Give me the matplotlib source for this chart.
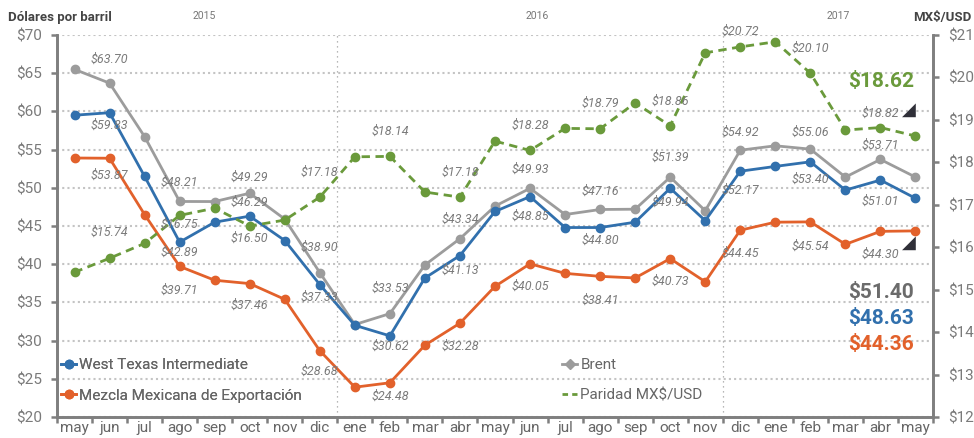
import matplotlib
matplotlib.use("Agg")
import matplotlib.pyplot as plt
import numpy as np
from matplotlib.lines import Line2D

plt.rcParams['font.family'] = ['Roboto', 'DejaVu Sans']

# data (monthly averages may 2015 - may 2017)
months = ['may', 'jun', 'jul', 'ago', 'sep', 'oct', 'nov', 'dic',
          'ene', 'feb', 'mar', 'abr', 'may', 'jun', 'jul', 'ago', 'sep', 'oct', 'nov', 'dic',
          'ene', 'feb', 'mar', 'abr', 'may']
years = ['2015', '2016', '2017']
year_pos = [3.7, 13.2, 21.8]

wti = [59.5, 59.83, 51.5, 42.89, 45.5, 46.29, 43.1, 37.33,
       32.0, 30.62, 38.2, 41.13, 46.9, 48.85, 44.8, 44.80, 45.5, 49.94, 45.7, 52.17,
       52.8, 53.40, 49.7, 51.01, 48.63]
brent = [65.5, 63.70, 56.7, 48.21, 48.2, 49.29, 45.9, 38.90,
         32.1, 33.53, 39.9, 43.34, 47.6, 49.93, 46.5, 47.16, 47.2, 51.39, 47.0, 54.92,
         55.5, 55.06, 51.4, 53.71, 51.40]
mezcla = [53.9, 53.87, 46.5, 39.71, 37.9, 37.46, 35.4, 28.68,
          23.9, 24.48, 29.4, 32.28, 37.1, 40.05, 38.8, 38.41, 38.2, 40.73, 37.7, 44.45,
          45.5, 45.54, 42.6, 44.30, 44.36]
paridad = [15.41, 15.74, 16.09, 16.75, 16.92, 16.50, 16.64, 17.18,
           18.13, 18.14, 17.30, 17.18, 18.50, 18.28, 18.80, 18.79, 19.40, 18.86, 20.58, 20.72,
           20.84, 20.10, 18.76, 18.82, 18.62]

c_wti = '#3170ad'
c_brent = '#9c9c9c'
c_mez = '#e2612b'
c_par = '#6a9a3b'
c_txt = '#7a7a7a'

x = np.arange(len(months))

fig = plt.figure(figsize=(9.74, 4.38), dpi=100)
ax = fig.add_axes([57/974, 21/438, 876/974, 382/438])
ax2 = ax.twinx()

ax.plot(x, brent, color=c_brent, lw=2, marker='o', ms=6, zorder=3)
ax.plot(x, wti, color=c_wti, lw=2, marker='o', ms=6, zorder=4)
ax.plot(x, mezcla, color=c_mez, lw=2, marker='o', ms=6, zorder=4)
ax2.plot(x, paridad, color=c_par, lw=2, ls=(0, (3, 2)), marker='o', ms=6)

ax.set_xlim(-0.5, len(months) - 0.5)
ax.set_ylim(20, 70)
ax2.set_ylim(12, 21)
ax.set_yticks(np.arange(20, 71, 5))
ax.set_yticklabels(['$%d' % v for v in np.arange(20, 71, 5)])
ax2.set_yticks(np.arange(12, 22, 1))
ax2.set_yticklabels(['$%d' % v for v in np.arange(12, 22, 1)])

ax.set_xticks(np.arange(-0.5, len(months), 1))
ax.set_xticklabels([])
ax.set_xticks(x, minor=True)
ax.set_xticklabels(months, minor=True)
ax.tick_params(axis='x', which='major', length=4, width=1.8, color='#7f7f7f')
ax.tick_params(axis='x', which='minor', length=0, pad=3, labelsize=11, labelcolor='#666666')
ax.tick_params(axis='y', length=4, width=1.8, color='#7f7f7f', pad=7, labelsize=11, labelcolor=c_txt)
ax2.tick_params(axis='y', length=4, width=1.8, color='#7f7f7f', pad=7, labelsize=11, labelcolor=c_txt)

for a in (ax, ax2):
    a.spines['top'].set_visible(False)
    for s in ('left', 'right', 'bottom'):
        a.spines[s].set_color('#7f7f7f')
        a.spines[s].set_linewidth(1.9)

ax.yaxis.grid(True, color='#c4c4c4', lw=1.5, ls=(0, (1, 1.5)))
ax.set_axisbelow(True)
for b in (7.5, 18.5):
    ax.axvline(b, color='#a0a0a0', lw=0.9, ls=(0, (1, 3)), zorder=1)

# data labels: (series, index, offset in pixels)
series = {'wti': (wti, ax), 'brent': (brent, ax), 'mezcla': (mezcla, ax), 'paridad': (paridad, ax2)}
labels = [
    ('brent', 1, 24), ('wti', 1, -13), ('mezcla', 1, -17), ('paridad', 1, 26),
    ('brent', 3, 19), ('paridad', 3, -9), ('wti', 3, -10), ('mezcla', 3, -24),
    ('brent', 5, 16), ('wti', 5, 14), ('paridad', 5, -12), ('mezcla', 5, -22),
    ('paridad', 7, 25), ('brent', 7, 25), ('wti', 7, -13), ('mezcla', 7, -21),
    ('paridad', 9, 25), ('brent', 9, 25), ('wti', 9, -10), ('mezcla', 9, -14),
    ('paridad', 11, 25), ('brent', 11, 19), ('wti', 11, -15), ('mezcla', 11, -23),
    ('paridad', 13, 25), ('brent', 13, 19), ('wti', 13, -20), ('mezcla', 13, -23),
    ('paridad', 15, 25), ('brent', 15, 18), ('wti', 15, -13), ('mezcla', 15, -24),
    ('paridad', 17, 25), ('brent', 17, 20), ('wti', 17, -14), ('mezcla', 17, -23),
    ('paridad', 19, 16), ('brent', 19, 18), ('wti', 19, -19), ('mezcla', 19, -23),
    ('paridad', 21, 25), ('brent', 21, 17), ('wti', 21, -18), ('mezcla', 21, -24),
    ('paridad', 23, 14), ('brent', 23, 14), ('wti', 23, -21), ('mezcla', 23, -23),
]
for key, i, dy in labels:
    vals, a = series[key]
    a.annotate('$%.2f' % vals[i], (x[i], vals[i]), xytext=(0, dy), textcoords='offset pixels',
               ha='center', va='center', fontsize=9, style='italic',
               color=c_txt, annotation_clip=False, zorder=6)

# latest values
big = [(paridad, c_par, 82), (brent, '#6b6b6b', 292), (wti, c_wti, 318), (mezcla, c_mez, 345)]
for vals, col, py in big:
    fig.text(914/974, 1 - py/438, '$%.2f' % vals[-1], ha='right', va='center',
             fontsize=15, fontweight='bold', color=col)
ax2.annotate('\u25e2', (x[-1], paridad[-1]), xytext=(-7, 26), textcoords='offset pixels',
             ha='center', va='center', fontsize=13, color='#2f2f38', family='DejaVu Sans')
ax.annotate('\u25e2', (x[-1], mezcla[-1]), xytext=(-7, -12), textcoords='offset pixels',
            ha='center', va='center', fontsize=13, color='#2f2f38', family='DejaVu Sans')

# header texts
fig.text(8/974, 1 - 17/438, 'Dólares por barril', ha='left', va='center',
         fontsize=9.5, fontweight='bold', color='#444444')
fig.text(971/974, 1 - 17/438, 'MX$/USD', ha='right', va='center',
         fontsize=9.5, fontweight='bold', color='#444444')
for yr, p in zip(years, year_pos):
    ax.text(p, 1.0 + 19/382, yr, transform=ax.get_xaxis_transform(), ha='center', va='center',
            fontsize=7.5, color='#777777')

# legends
h1 = [Line2D([], [], color=c_wti, lw=2, marker='o', ms=6),
      Line2D([], [], color=c_mez, lw=2, marker='o', ms=6)]
h2 = [Line2D([], [], color=c_brent, lw=2, marker='D', ms=5),
      Line2D([], [], color=c_par, lw=2, ls=(0, (2, 1.5)))]
legkw = dict(loc='upper left', frameon=False, handlelength=1.0,
             handletextpad=0.2, labelspacing=1.1, borderpad=0, borderaxespad=0,
             labelcolor='#666666', prop={'size': 11})
leg1 = ax.legend(h1, ['West Texas Intermediate', 'Mezcla Mexicana de Exportación'],
                 bbox_to_anchor=(4/876, 59/382), **legkw)
ax.add_artist(leg1)
leg2 = ax2.legend(h2, ['Brent', 'Paridad MX$/USD'],
                  bbox_to_anchor=(505/876, 59/382), **legkw)

fig.savefig('out.png', dpi=100)
